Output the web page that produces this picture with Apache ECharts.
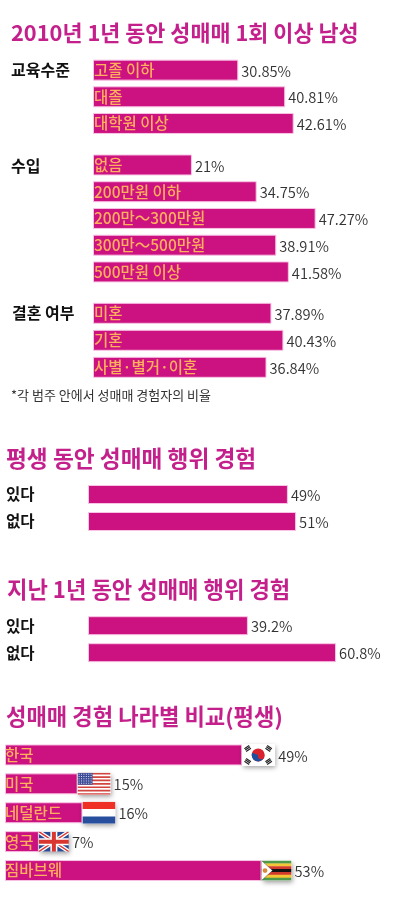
<!DOCTYPE html>
<html>
<head>
<meta charset="utf-8">
<title>성매매 경험</title>
<style>
	html, body { margin: 0; padding: 0; background: #fff; }
	#main { width: 396px; height: 898px; }
</style>
<script src="https://cdn.jsdelivr.net/npm/echarts@6/dist/echarts.min.js"></script>
</head>
<body>
<div id="main"></div>
<script>
	// 데이터
	const eduNames = ['고졸 이하', '대졸', '대학원 이상']
	const eduValues = [30.85, 40.81, 42.61]
	const incomeNames = ['없음', '200만원 이하', '200만～300만원', '300만～500만원', '500만원 이상']
	const incomeValues = [21, 34.75, 47.27, 38.91, 41.58]
	const marriageNames = ['미혼', '기혼', '사별·별거·이혼']
	const marriageValues = [37.89, 40.43, 36.84]
	const answerNames = ['있다', '없다']
	const lifetimeValues = [49, 51]
	const lastYearValues = [39.2, 60.8]
	const countryNames = ['한국', '미국', '네덜란드', '영국', '짐바브웨']
	const countryValues = [49, 15, 16, 7, 53]
	const countryFlags = ['kr', 'us', 'nl', 'gb', 'zw']

	const BAR = '#cb1280'
	const HALO = '#f8c4e4'
	const TITLE = '#c4208c'
	const INNER = '#ffb05c'
	const NUM = '#333'
	const FONT = '"Noto Sans CJK KR", sans-serif'

	let grids = [], xAxes = [], yAxes = [], series = []

	// 그룹 하나 = grid 하나
	function addGroup(opt) {
		let idx = grids.length
		grids.push({ left: opt.left, top: opt.top, height: opt.height, width: opt.max * opt.scale })
		xAxes.push({ gridIndex: idx, type: 'value', min: 0, max: opt.max, show: false })
		yAxes.push({
			gridIndex: idx,
			type: 'category',
			inverse: true,
			data: opt.names,
			axisLine: { show: false },
			axisTick: { show: false },
			axisLabel: opt.axisLabel ? {
				show: true, align: 'left', margin: opt.left - 6,
				color: '#111', fontFamily: FONT, fontWeight: 700, fontSize: 15.5
			} : { show: false }
		})
		let inner = {
			type: 'bar',
			xAxisIndex: idx,
			yAxisIndex: idx,
			data: opt.values,
			barWidth: opt.barWidth,
			itemStyle: { color: BAR, borderColor: HALO, borderWidth: 1 },
			silent: true
		}
		if (!opt.axisLabel) {
			inner.label = {
				show: true, position: 'insideLeft', distance: opt.innerDist,
				color: INNER, fontFamily: FONT, fontWeight: 500, fontSize: 15.5,
				formatter: (p) => opt.names[p.dataIndex]
			}
		}
		series.push(inner)
		if (opt.flags) {
			series.push({
				type: 'custom',
				xAxisIndex: idx,
				yAxisIndex: idx,
				silent: true,
				z: 5,
				clip: false,
				encode: { x: 0, y: 1 },
				data: opt.values.map((v, i) => [v, i]),
				renderItem: (params, api) => {
					let pt = api.coord([api.value(0), api.value(1)])
					return drawFlag(opt.flags[params.dataIndex], pt[0], pt[1], api.value(0))
				}
			})
		} else {
			series.push({
				type: 'bar',
				xAxisIndex: idx,
				yAxisIndex: idx,
				data: opt.values,
				barWidth: opt.barWidth,
				barGap: '-100%',
				itemStyle: { color: 'transparent' },
				silent: true,
				label: {
					show: true, position: 'right', distance: 3, offset: [0, 1],
					color: NUM, fontFamily: FONT, fontWeight: 350, fontSize: 14.7,
					formatter: (p) => p.value + '%'
				}
			})
		}
	}

	function rect(x, y, w, h, fill) {
		return { type: 'rect', shape: { x: x, y: y, width: w, height: h }, style: { fill: fill } }
	}
	function line(x1, y1, x2, y2, color, w) {
		return { type: 'line', shape: { x1: x1, y1: y1, x2: x2, y2: y2 }, style: { stroke: color, lineWidth: w } }
	}

	// 국기는 막대 끝에 붙는다
	function drawFlag(code, x, cy, value) {
		let kids = [], w = 33, h = 22
		if (code == 'gb' || code == 'zw') { w = 30; h = 20 }
		let y = cy - h / 2
		if (code == 'kr') {
			kids.push(rect(x, y, w, h, '#fff'))
			let cx = x + w / 2 - 0.5, my = cy
			kids.push({ type: 'circle', shape: { cx: cx, cy: my, r: 6.5 }, style: { fill: '#d8232f' } })
			kids.push({ type: 'sector', shape: { cx: cx, cy: my, r: 6.5, r0: 0, startAngle: 0.35, endAngle: 3.5 }, style: { fill: '#1d4f9c' } })
			kids.push({ type: 'circle', shape: { cx: cx + 3, cy: my + 1, r: 3.2 }, style: { fill: '#d8232f' } })
			;[[-1, -1], [1, -1], [-1, 1], [1, 1]].forEach((s) => {
				let bx = cx + s[0] * 10.5, by = my + s[1] * 6.5
				for (let k = -1; k <= 1; k++) {
					let ox = k * 1.6 * s[0] * 0.55, oy = k * 1.6 * s[1] * 0.83
					kids.push(line(bx + ox - s[1] * 2.4, by + oy + s[0] * 1.6, bx + ox + s[1] * 2.4, by + oy - s[0] * 1.6, '#222', 1.2))
				}
			})
		} else if (code == 'us') {
			kids.push(rect(x, y, w, h, '#fff'))
			for (let k = 0; k < 7; k++) kids.push(rect(x, y + k * h * 2 / 13, w, h / 13, '#d2453f'))
			kids.push(rect(x, y, 15, h * 7 / 13, '#3d4c97'))
			for (let r = 0; r < 5; r++) {
				for (let c = 0; c < 6; c++) kids.push(rect(x + 1 + c * 2.4, y + 1 + r * 2.2, 1, 1, '#d9dcf0'))
			}
		} else if (code == 'nl') {
			kids.push(rect(x, y, w, h / 3, '#ee3124'))
			kids.push(rect(x, y + h / 3, w, h / 3, '#fff'))
			kids.push(rect(x, y + h * 2 / 3, w, h / 3, '#274f9e'))
		} else if (code == 'gb') {
			kids.push(rect(x, y, w, h, '#2b4a93'))
			kids.push(line(x, y, x + w, y + h, '#fff', 4))
			kids.push(line(x + w, y, x, y + h, '#fff', 4))
			kids.push(line(x, y, x + w, y + h, '#d8362f', 1.3))
			kids.push(line(x + w, y, x, y + h, '#d8362f', 1.3))
			kids.push(rect(x, cy - 3.5, w, 7, '#fff'))
			kids.push(rect(x + w / 2 - 3.5, y, 7, h, '#fff'))
			kids.push(rect(x, cy - 2, w, 4, '#d8362f'))
			kids.push(rect(x + w / 2 - 2, y, 4, h, '#d8362f'))
		} else if (code == 'zw') {
			let cols = ['#4f9a4a', '#f4c534', '#d03a2c', '#111', '#d03a2c', '#f4c534', '#4f9a4a']
			cols.forEach((c, k) => kids.push(rect(x, y + k * h / 7, w, h / 7 + 0.3, c)))
			kids.push({
				type: 'polygon',
				shape: { points: [[x, y], [x + 11, cy], [x, y + h]] },
				style: { fill: '#fff', stroke: '#222', lineWidth: 0.4 }
			})
			kids.push({ type: 'circle', shape: { cx: x + 3.5, cy: cy, r: 2.4 }, style: { fill: '#d9893a' } })
		}
		return {
			type: 'group',
			children: [
				{
					type: 'rect',
					shape: { x: x, y: y, width: w, height: h },
					style: { fill: '#fff', shadowBlur: 5, shadowColor: 'rgba(0,0,0,0.4)', shadowOffsetX: 1, shadowOffsetY: 2 }
				},
				{
					type: 'group',
					clipPath: { type: 'rect', shape: { x: x, y: y, width: w, height: h } },
					children: kids
				},
				{
					type: 'text',
					style: {
						x: x + w + 3, y: cy + 1,
						text: value + '%',
						fill: NUM,
						font: '350 14.7px ' + FONT,
						verticalAlign: 'middle'
					}
				}
			]
		}
	}

	addGroup({ names: eduNames, values: eduValues, left: 93, scale: 4.71, max: 60, top: 56.8, height: 80, barWidth: 21, innerDist: 1 })
	addGroup({ names: incomeNames, values: incomeValues, left: 93, scale: 4.71, max: 60, top: 151.6, height: 133.7, barWidth: 21, innerDist: 1 })
	addGroup({ names: marriageNames, values: marriageValues, left: 93, scale: 4.71, max: 60, top: 299.8, height: 81, barWidth: 21, innerDist: 1 })
	addGroup({ names: answerNames, values: lifetimeValues, left: 88, scale: 4.08, max: 70, top: 481, height: 54, barWidth: 19, axisLabel: true })
	addGroup({ names: answerNames, values: lastYearValues, left: 88, scale: 4.08, max: 70, top: 612.2, height: 54, barWidth: 19, axisLabel: true })
	addGroup({ names: countryNames, values: countryValues, left: 5, scale: 4.84, max: 60, top: 740.5, height: 144.5, barWidth: 21, innerDist: 0, flags: countryFlags })

	function bigTitle(text, left, cy, size) {
		return { text: text, left: left, top: cy - 15, padding: 0, textStyle: { color: TITLE, fontFamily: FONT, fontWeight: 700, fontSize: size, lineHeight: 30 } }
	}
	function smallTitle(text, left, cy, size, weight, color) {
		return { text: text, left: left, top: cy - 10, padding: 0, textStyle: { color: color, fontFamily: FONT, fontWeight: weight, fontSize: size, lineHeight: 20 } }
	}

	let myChart = echarts.init(document.getElementById('main'))
	myChart.setOption({
		animation: false,
		backgroundColor: '#fff',
		title: [
			bigTitle('2010년 1년 동안 성매매 1회 이상 남성', 11, 33, 21.8),
			smallTitle('교육수준', 11, 70, 16, 700, '#111'),
			smallTitle('수입', 11, 166, 16, 700, '#111'),
			smallTitle('결혼 여부', 12, 313, 16, 700, '#111'),
			smallTitle('*각 범주 안에서 성매매 경험자의 비율', 11, 395, 13, 400, '#333'),
			bigTitle('평생 동안 성매매 행위 경험', 6, 458, 22.7),
			bigTitle('지난 1년 동안 성매매 행위 경험', 7, 590, 22.2),
			bigTitle('성매매 경험 나라별 비교(평생)', 6, 717, 22.2)
		],
		grid: grids,
		xAxis: xAxes,
		yAxis: yAxes,
		series: series
	})
</script>
</body>
</html>
